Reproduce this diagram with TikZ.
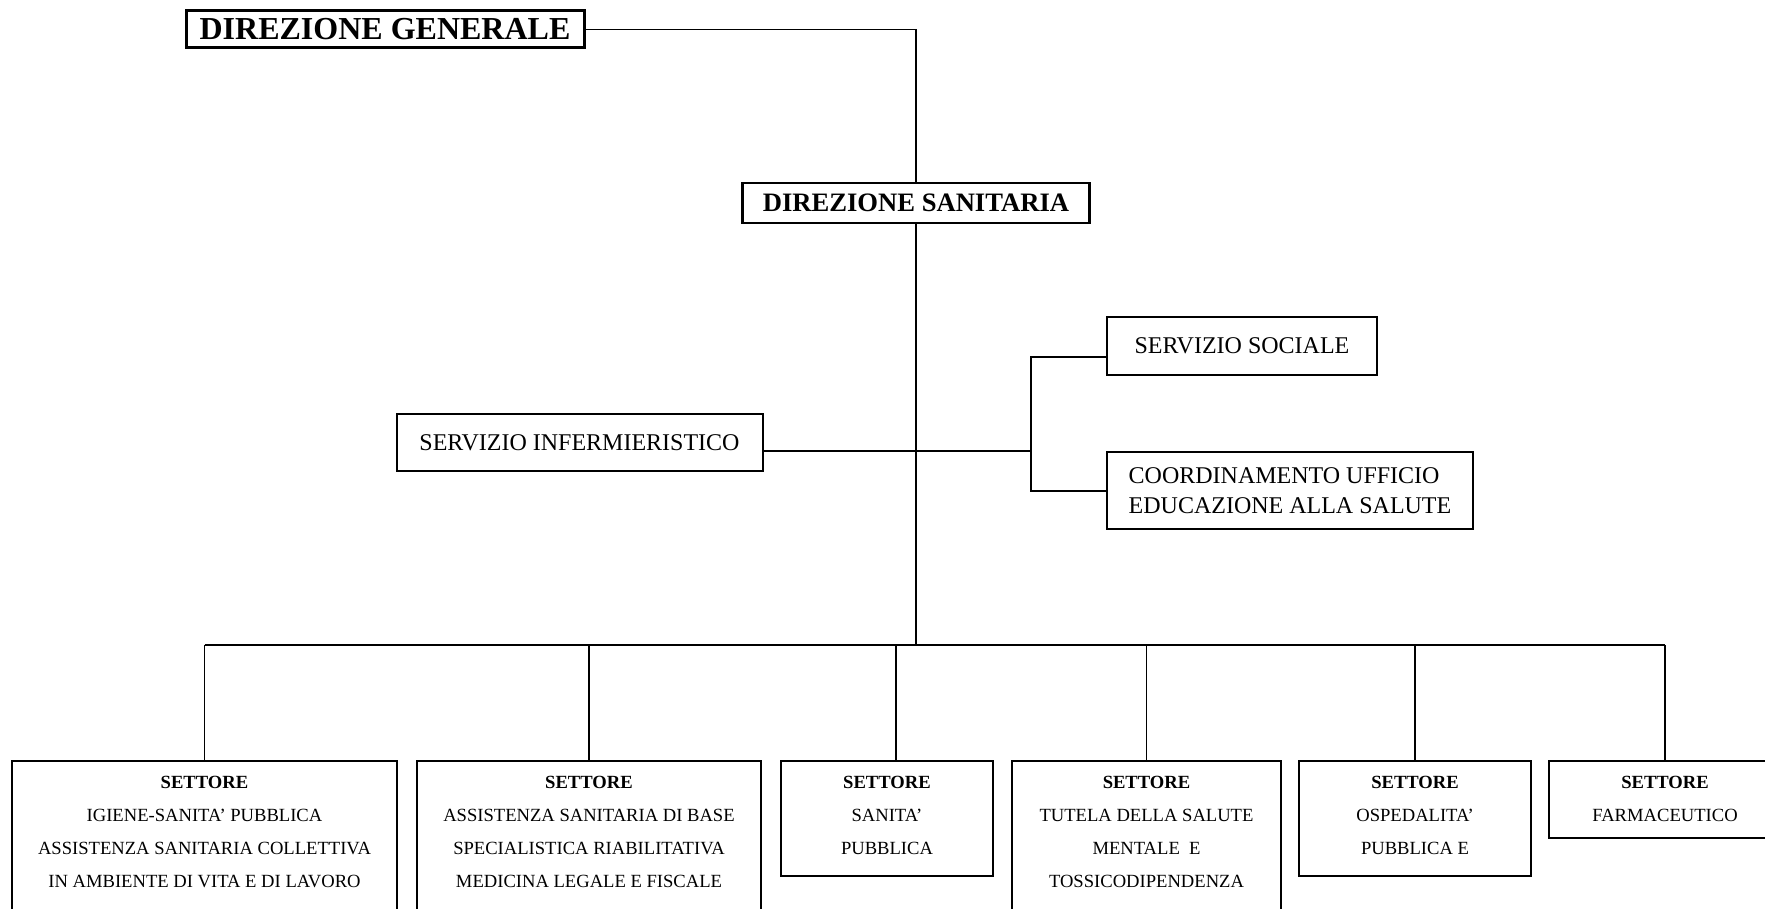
\documentclass[tikz,border=0pt]{standalone}
\usepackage{fontspec}
\setmainfont{Liberation Serif}
\usepackage{tikz}

\begin{document}
\begin{tikzpicture}[x=0.5pt,y=-0.5pt]
\tikzstyle{every node}=[draw,shape=rectangle,line width=1pt,inner sep=0pt,align=center];
\tikzstyle{settore}=[anchor=north,inner ysep=7.4pt,font=\fontsize{9.3}{16.5}\selectfont];
\tikzstyle{ufficio}=[minimum height=29pt,font=\fontsize{12}{15}\selectfont];
\tikzstyle{link}=[line width=0.75pt];
\useasboundingbox (0,0) rectangle (1765,909);
\node[minimum width=199pt,minimum height=18.5pt,line width=1.5pt,font=\fontsize{16}{18}\selectfont\bfseries] (dg) at (385,29.5) {DIREZIONE GENERALE};
\node[minimum width=173.5pt,minimum height=20pt,line width=1.2pt,font=\fontsize{13.3}{15}\selectfont\bfseries] (ds) at (916,203) {DIREZIONE SANITARIA};
\node[ufficio,minimum width=183pt,minimum height=28.5pt] (si) at (579.5,442.5) {SERVIZIO INFERMIERISTICO};
\node[ufficio,minimum width=135pt] (ss) at (1242,346) {SERVIZIO SOCIALE};
\node[ufficio,minimum width=183pt,minimum height=38.5pt,align=left] (cu) at (1290,490.5) {COORDINAMENTO UFFICIO\\EDUCAZIONE ALLA SALUTE};
\node[settore,minimum width=192.5pt] (b1) at (204.5,760) {\textbf{SETTORE}\\IGIENE-SANITA' PUBBLICA\\ASSISTENZA SANITARIA COLLETTIVA\\IN AMBIENTE DI VITA E DI LAVORO\\\strut};
\node[settore,minimum width=172pt] (b2) at (589,760) {\textbf{SETTORE}\\ASSISTENZA SANITARIA DI BASE\\SPECIALISTICA RIABILITATIVA\\MEDICINA LEGALE E FISCALE\\\strut};
\node[settore,minimum width=106pt] (b3) at (887,760) {\textbf{SETTORE}\\SANITA'\\PUBBLICA\rule[-3.5pt]{0pt}{3.5pt}};
\node[settore,minimum width=134.5pt] (b4) at (1146.5,760) {\textbf{SETTORE}\\TUTELA DELLA SALUTE\\MENTALE\ \ E\\TOSSICODIPENDENZA\\\strut};
\node[settore,minimum width=116pt] (b5) at (1415,760) {\textbf{SETTORE}\\OSPEDALITA'\\PUBBLICA E\rule[-3.5pt]{0pt}{3.5pt}};
\node[settore,minimum width=116pt] (b6) at (1665,760) {\textbf{SETTORE}\\FARMACEUTICO\rule[-1pt]{0pt}{1pt}};
\coordinate (bus) at (916,645);
\coordinate (sijoin) at (1031,451);
\coordinate (ssjoin) at (1031,357);
\coordinate (cujoin) at (1031,491);
\draw[link] (dg.east) -| (ds.north);
\draw[link] (ds.south) -- (ds.south |- bus);
\draw[link] (si.east |- sijoin) -- (sijoin);
\draw[link] (ss.west |- ssjoin) -- (ssjoin) -- (cujoin) -- (cu.west |- cujoin);
\draw[link] (b1.north |- bus) -- (b6.north |- bus);
\foreach \b/\d in {b1/0pt,b2/0pt,b3/4.5pt,b4/0pt,b5/0pt,b6/0pt}
  \draw[link] ([xshift=\d]\b.north) -- ([xshift=\d]\b.north |- bus);
\end{tikzpicture}
\end{document}
